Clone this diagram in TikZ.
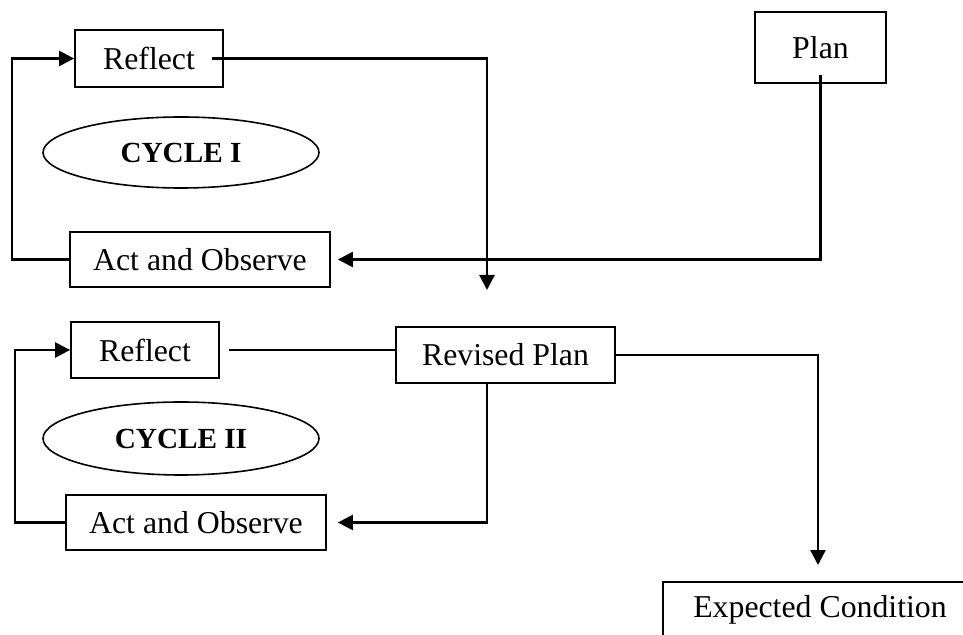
\documentclass[tikz,border=0pt]{standalone}
\usepackage{fontspec}
\setmainfont{Liberation Serif}
\usetikzlibrary{arrows.meta,shapes.geometric,calc}
\begin{document}
\begin{tikzpicture}[x=0.5pt,y=-0.5pt,
  box/.style={draw,line width=0.9pt,rectangle,inner sep=0pt,font=\fontsize{15.9pt}{19pt}\selectfont},
  cyc/.style={draw,line width=0.8pt,ellipse,inner sep=0pt,minimum width=138pt,minimum height=35.5pt,font=\fontsize{14.6pt}{18pt}\selectfont\bfseries},
  conn/.style={line width=1pt},
  arr/.style={line width=1.2pt,-{Triangle[length=7.5pt,width=7.5pt]}}]
\useasboundingbox (0,0) rectangle (963,635);
\fill[white] (0,0) rectangle (963,635);
\node[box,minimum width=74pt,minimum height=28.5pt] (r1) at (149,58.5) {Reflect};
\node[box,minimum width=130pt,minimum height=27.5pt] (act1) at (200,259.5) {Act and Observe};
\node[box,minimum width=65.5pt,minimum height=35.5pt] (plan) at (820.5,47.5) {Plan};
\node[cyc] (cyc1) at (181,152.5) {CYCLE I};
\node[box,minimum width=74pt,minimum height=28pt] (r2) at (145,350) {Reflect};
\node[box,minimum width=109.5pt,minimum height=28pt] (rev) at (505.5,355) {Revised Plan};
\node[box,minimum width=130pt,minimum height=27.5pt] (act2) at (196,522.5) {Act and Observe};
\node[cyc,minimum height=36.5pt] (cyc2) at (181,438.5) {CYCLE II};
\node[box,minimum width=157pt,minimum height=28pt] (exp) at (820,610) {Expected Condition};
\coordinate (l1) at (12,58.5);
\coordinate (d1) at (487,290);
\coordinate (l2) at (15,350);
\coordinate (d2) at (818,565);
\draw[arr] (act1.west) -| (l1) -- (r1.west);
\draw[arr,shorten <=-6pt] (r1.east) -| (d1);
\draw[arr,shorten <=-4.5pt,shorten >=3.5pt] (plan.south) |- (act1.east);
\draw[conn,shorten <=4.5pt] (r2.east) -- (r2.east -| rev.west);
\draw[arr,shorten >=5.5pt] ($(rev.south)+(-18.5,0)$) |- (act2.east);
\draw[arr] (act2.west) -| (l2) -- (r2.west);
\draw[arr] (rev.east) -| (d2);
\end{tikzpicture}
\end{document}
